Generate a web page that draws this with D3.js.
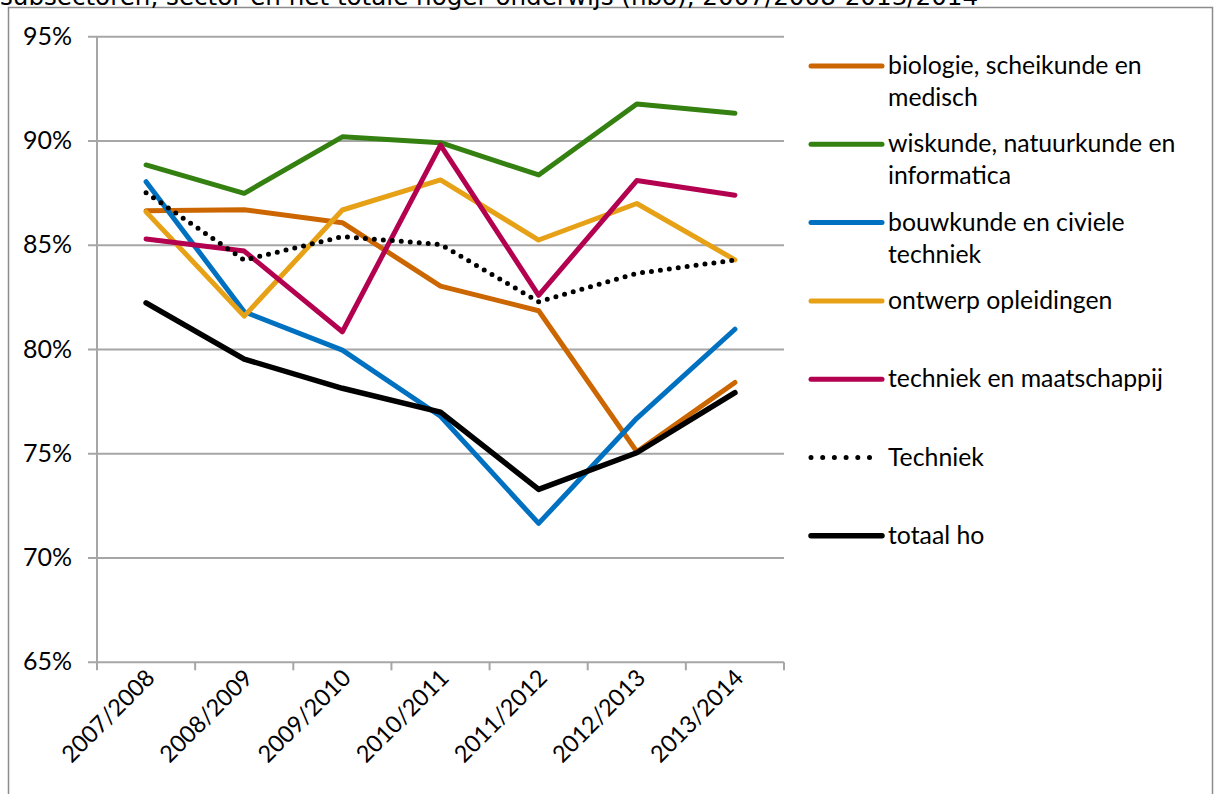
<!DOCTYPE html>
<html>
<head>
<meta charset="utf-8">
<script src="https://cdn.jsdelivr.net/npm/d3@7"></script>
<style>
  html, body { margin: 0; padding: 0; background: #fff; overflow: hidden; }
  svg { display: block; }
</style>
</head>
<body>
<svg id="chart" width="1214" height="794"></svg>
<script>
const titleText = "subsectoren, sector en het totale hoger onderwijs (hbo), 2007/2008-2013/2014";
const years = ["2007/2008", "2008/2009", "2009/2010", "2010/2011", "2011/2012", "2012/2013", "2013/2014"];
const yTicks = [65, 70, 75, 80, 85, 90, 95];

const seriesNames = [
  "biologie, scheikunde en medisch",
  "wiskunde, natuurkunde en informatica",
  "bouwkunde en civiele techniek",
  "ontwerp opleidingen",
  "techniek en maatschappij",
  "Techniek",
  "totaal ho"
];
const legendLines = [
  ["biologie, scheikunde en", "medisch"],
  ["wiskunde, natuurkunde en", "informatica"],
  ["bouwkunde en civiele", "techniek"],
  ["ontwerp opleidingen"],
  ["techniek en maatschappij"],
  ["Techniek"],
  ["totaal ho"]
];
const biologie      = [86.65, 86.7, 86.08, 83.04, 81.86, 75.1, 78.42];
const wiskunde      = [88.85, 87.49, 90.2, 89.92, 88.37, 91.77, 91.33];
const bouwkunde     = [88.05, 81.81, 79.97, 76.8, 71.66, 76.7, 80.97];
const ontwerp       = [86.6, 81.6, 86.69, 88.13, 85.25, 87.0, 84.3];
const maatschappij  = [85.3, 84.72, 80.85, 89.8, 82.6, 88.1, 87.4];
const techniek      = [87.52, 84.29, 85.41, 85.04, 82.29, 83.65, 84.29];
const totaalHo      = [82.24, 79.54, 78.14, 77.0, 73.29, 75.05, 77.93];

const seriesValues = [biologie, wiskunde, bouwkunde, ontwerp, maatschappij, techniek, totaalHo];
const colors = ["#cc6600", "#348011", "#0070c0", "#e6a117", "#b3004f", "#000000", "#000000"];
const widths = [5, 5, 5, 5, 5, 5, 5.5];
const dotted = [false, false, false, false, false, true, false];

const svg = d3.select("#chart");
const font = "Lato, 'Open Sans', sans-serif";

// outer frame
svg.append("rect")
  .attr("x", 8.5).attr("y", 7.5)
  .attr("width", 1204).attr("height", 800)
  .attr("fill", "none").attr("stroke", "#8c8c8c").attr("stroke-width", 1.5);

// title (cut off at top, as in the reference)
svg.append("text")
  .attr("x", 0).attr("y", 5)
  .attr("font-family", "'DejaVu Sans', sans-serif")
  .attr("font-size", 24.6)
  .attr("fill", "#000")
  .text(titleText);

const pLeft = 97, pRight = 784, pTop = 36.7, pBottom = 662.3;
const x = d3.scaleBand().domain(years).range([pLeft, pRight]);
const y = d3.scaleLinear().domain([65, 95]).range([pBottom, pTop]);

// gridlines
svg.append("g").selectAll("line").data(yTicks).join("line")
  .attr("x1", 88).attr("x2", pRight)
  .attr("y1", d => y(d)).attr("y2", d => y(d))
  .attr("stroke", "#a6a6a6").attr("stroke-width", 2);

// y axis line
svg.append("line")
  .attr("x1", pLeft).attr("x2", pLeft).attr("y1", pTop).attr("y2", pBottom)
  .attr("stroke", "#a6a6a6").attr("stroke-width", 2);

// x tick marks
const xTickPos = years.map(d => x(d)).concat([pRight]);
svg.append("g").selectAll("line").data(xTickPos).join("line")
  .attr("x1", d => d).attr("x2", d => d)
  .attr("y1", pBottom).attr("y2", pBottom + 8)
  .attr("stroke", "#a6a6a6").attr("stroke-width", 2);

// y tick labels
svg.append("g").selectAll("text").data(yTicks).join("text")
  .attr("x", 72).attr("y", d => y(d) + 8)
  .attr("text-anchor", "end")
  .attr("font-family", font).attr("font-size", 25)
  .attr("fill", "#000")
  .text(d => d + "%");

// x tick labels
svg.append("g").selectAll("text").data(years).join("text")
  .attr("transform", d => `translate(${x(d) + x.bandwidth() / 2 + 10},${pBottom + 17}) rotate(-45)`)
  .attr("text-anchor", "end")
  .attr("font-family", font).attr("font-size", 23.5)
  .attr("fill", "#000")
  .text(d => d);

// lines
const line = d3.line()
  .x((d, i) => x(years[i]) + x.bandwidth() / 2)
  .y(d => y(d));

seriesValues.forEach((vals, i) => {
  const p = svg.append("path")
    .datum(vals)
    .attr("d", line)
    .attr("fill", "none")
    .attr("stroke", colors[i])
    .attr("stroke-width", widths[i])
    .attr("stroke-linejoin", "round")
    .attr("stroke-linecap", "round");
  if (dotted[i]) p.attr("stroke-dasharray", "0 9");
});

// legend
const legX1 = 811, legX2 = 882, legTextX = 888, legY0 = 66, legStep = 78.3;
const leg = svg.append("g");
seriesNames.forEach((name, i) => {
  const yy = legY0 + i * legStep;
  const l = leg.append("line")
    .attr("x1", legX1).attr("x2", dotted[i] ? 872 : legX2)
    .attr("y1", yy).attr("y2", yy)
    .attr("stroke", colors[i])
    .attr("stroke-width", widths[i])
    .attr("stroke-linecap", "round");
  if (dotted[i]) l.attr("stroke-dasharray", "0 11.7");
  const t = leg.append("text")
    .attr("x", legTextX).attr("y", yy + 8)
    .attr("font-family", font).attr("font-size", 24.8)
    .attr("fill", "#000");
  legendLines[i].forEach((s, k) => {
    t.append("tspan").attr("x", legTextX).attr("dy", k === 0 ? 0 : 32).text(s);
  });
});
</script>
</body>
</html>
